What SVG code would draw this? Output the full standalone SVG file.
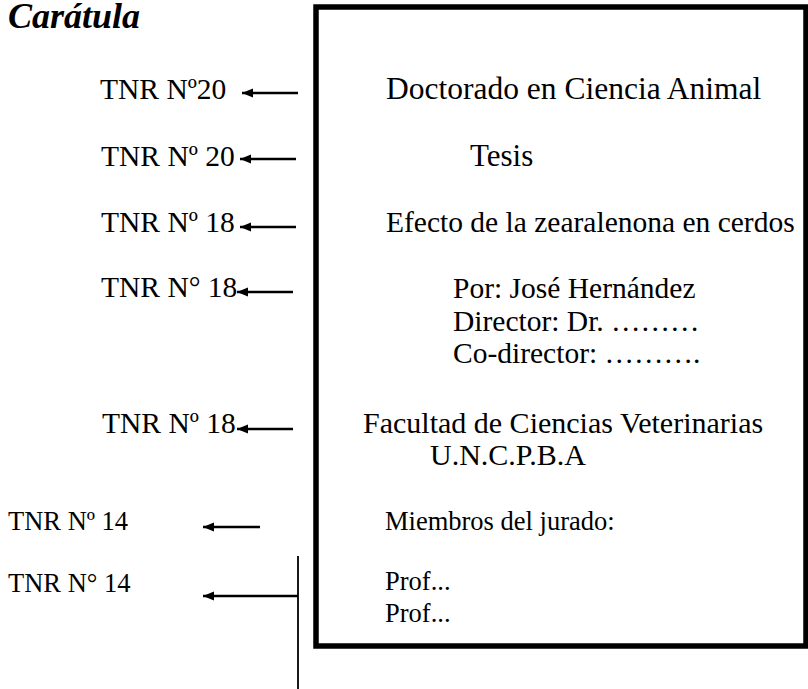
<svg xmlns="http://www.w3.org/2000/svg" width="808" height="689" viewBox="0 0 808 689">
<style>
.a{stroke:#000;stroke-width:2.5;fill:none;marker-end:url(#ah)}
</style>
<defs>
<marker id="ah" markerUnits="userSpaceOnUse" markerWidth="12" markerHeight="10" refX="11" refY="5" orient="auto">
<path d="M0,0.5 L11,5 L0,9.5 Z" fill="#000"/>
</marker>
</defs>
<rect width="808" height="689" fill="#fff"/>
<g font-family="'Times New Roman','Liberation Serif',serif" fill="#000">
<text id="title" x="8" y="28" font-size="36" font-weight="bold" font-style="italic">Carátula</text>
<g id="page">
<rect x="316" y="7" width="490" height="639" fill="none" stroke="#000" stroke-width="5.5"/>
</g>
<g id="labels">
<text id="l1" x="100" y="99" font-size="29.5">TNR Nº20</text>
<text id="l2" x="101" y="166" font-size="29.5">TNR Nº 20</text>
<text id="l3" x="101" y="232" font-size="29.5">TNR Nº 18</text>
<text id="l4" x="101" y="297" font-size="29.5">TNR N° 18</text>
<text id="l5" x="102" y="433" font-size="29.5">TNR Nº 18</text>
<text id="l6" x="8" y="530" font-size="26.5">TNR Nº 14</text>
<text id="l7" x="8" y="592" font-size="26.5">TNR N° 14</text>
</g>
<g id="content">
<text id="c1" x="386" y="99" font-size="31.5">Doctorado en Ciencia Animal</text>
<text id="c2" x="470" y="166" font-size="31">Tesis</text>
<text id="c3" x="386" y="232" font-size="29.5">Efecto de la zearalenona en cerdos</text>
<g id="c4" font-size="29.5">
<text x="453" y="298">Por: José Hernández</text>
<text x="453" y="331">Director: Dr. ………</text>
<text x="453" y="363">Co-director: ……….</text>
</g>
<g id="c5" font-size="30">
<text x="363" y="433">Facultad de Ciencias Veterinarias</text>
<text x="430" y="465">U.N.C.P.B.A</text>
</g>
<text id="c6" x="385" y="530" font-size="26.5">Miembros del jurado:</text>
<g id="c7" font-size="26.5">
<text x="385" y="590">Prof...</text>
<text x="385" y="622">Prof...</text>
</g>
</g>
</g>
<g id="connectors">
<line class="a" x1="298" y1="93" x2="242" y2="93"/>
<line class="a" x1="296" y1="159" x2="240" y2="159"/>
<line class="a" x1="296" y1="227" x2="240" y2="227"/>
<line class="a" x1="293" y1="292" x2="237" y2="292"/>
<line class="a" x1="293" y1="429" x2="237" y2="429"/>
<line class="a" x1="260" y1="527" x2="203" y2="527"/>
<line class="a" x1="298" y1="596" x2="203" y2="596"/>
<line x1="298" y1="556" x2="298" y2="689" stroke="#000" stroke-width="1.8"/>
</g>
</svg>
